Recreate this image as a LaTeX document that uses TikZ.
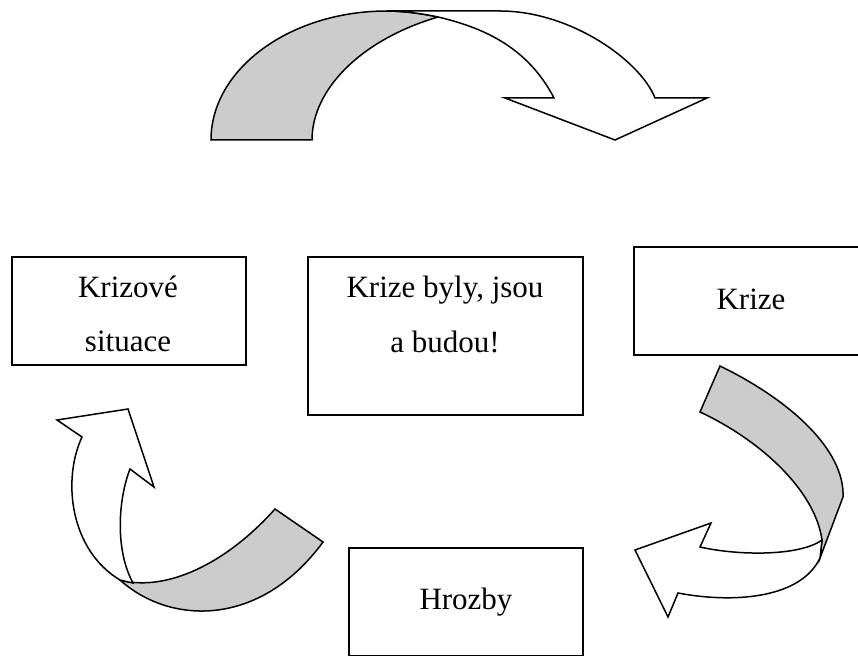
\documentclass[tikz,border=0pt]{standalone}
\usepackage{fontspec}
\setmainfont{Liberation Serif}
\begin{document}
\begin{tikzpicture}[x=1pt,y=-1pt,
  box/.style={draw=black,line width=1.6pt,fill=white,minimum width=234pt,minimum height=108pt,inner sep=0pt},
  bigbox/.style={box,minimum width=275pt,minimum height=158pt},
  txt/.style={font=\fontsize{31}{37}\selectfont,inner sep=0pt,anchor=base},
  back/.style={draw=black,line width=1.5pt,fill=black!20,line join=miter},
  front/.style={draw=black,line width=1.5pt,fill=white,line join=miter}]
\useasboundingbox (0,0) rectangle (858,655);
\clip (0,0) rectangle (858,655);

% boxes
\node[box] (sit) at (129,311) {};
\node[txt] (sit1) at (128,297) {Krizové};
\node[txt] (sit2) at (128,351) {situace};

\node[bigbox] (mid) at (445.5,336) {};
\node[txt] (mid1) at (445,297) {Krize byly, jsou};
\node[txt] (mid2) at (445,352) {a budou!};

\node[box] (kri) at (751,301) {};
\node[txt] (kri1) at (751,309) {Krize};

\node[box] (hro) at (466,602) {};
\node[txt] (hro1) at (466,609) {Hrozby};

% top ribbon arrow
\draw[back] (211,140) .. controls (211,69) and (290,11) .. (387,11)
  .. controls (400,11) and (420,13) .. (438,17)
  .. controls (360,40) and (312,90) .. (312,140) -- cycle;
\draw[front] (387,11) -- (500,11) .. controls (570,11) and (640,60) .. (655,98)
  -- (707,98) -- (615,140) -- (505,98) -- (554,98)
  .. controls (528,48) and (485,28) .. (438,17)
  .. controls (420,13) and (400,11) .. (387,11) -- cycle;

% right ribbon arrow
\draw[back] (720,366) .. controls (790,400) and (845,450) .. (843,497)
  -- (820,558) -- (822,540) .. controls (815,490) and (760,440) .. (700,412) -- cycle;
\draw[front] (822,540) .. controls (800,556) and (740,556) .. (700,547)
  -- (711,523) -- (635,550) -- (668,617) -- (678,593)
  .. controls (730,603) and (800,600) .. (820,558) -- cycle;

% left ribbon arrow
\draw[back] (275,509) .. controls (225,565) and (165,592) .. (120,580)
  .. controls (170,625) and (260,628) .. (323,542) -- cycle;
\draw[front] (120,580) .. controls (70,550) and (62,480) .. (82,437)
  -- (57,420) -- (128,409) -- (154,487) -- (130,469)
  .. controls (118,500) and (115,550) .. (133,583)
  .. controls (128,582) and (124,581) .. (120,580) -- cycle;
\end{tikzpicture}
\end{document}
